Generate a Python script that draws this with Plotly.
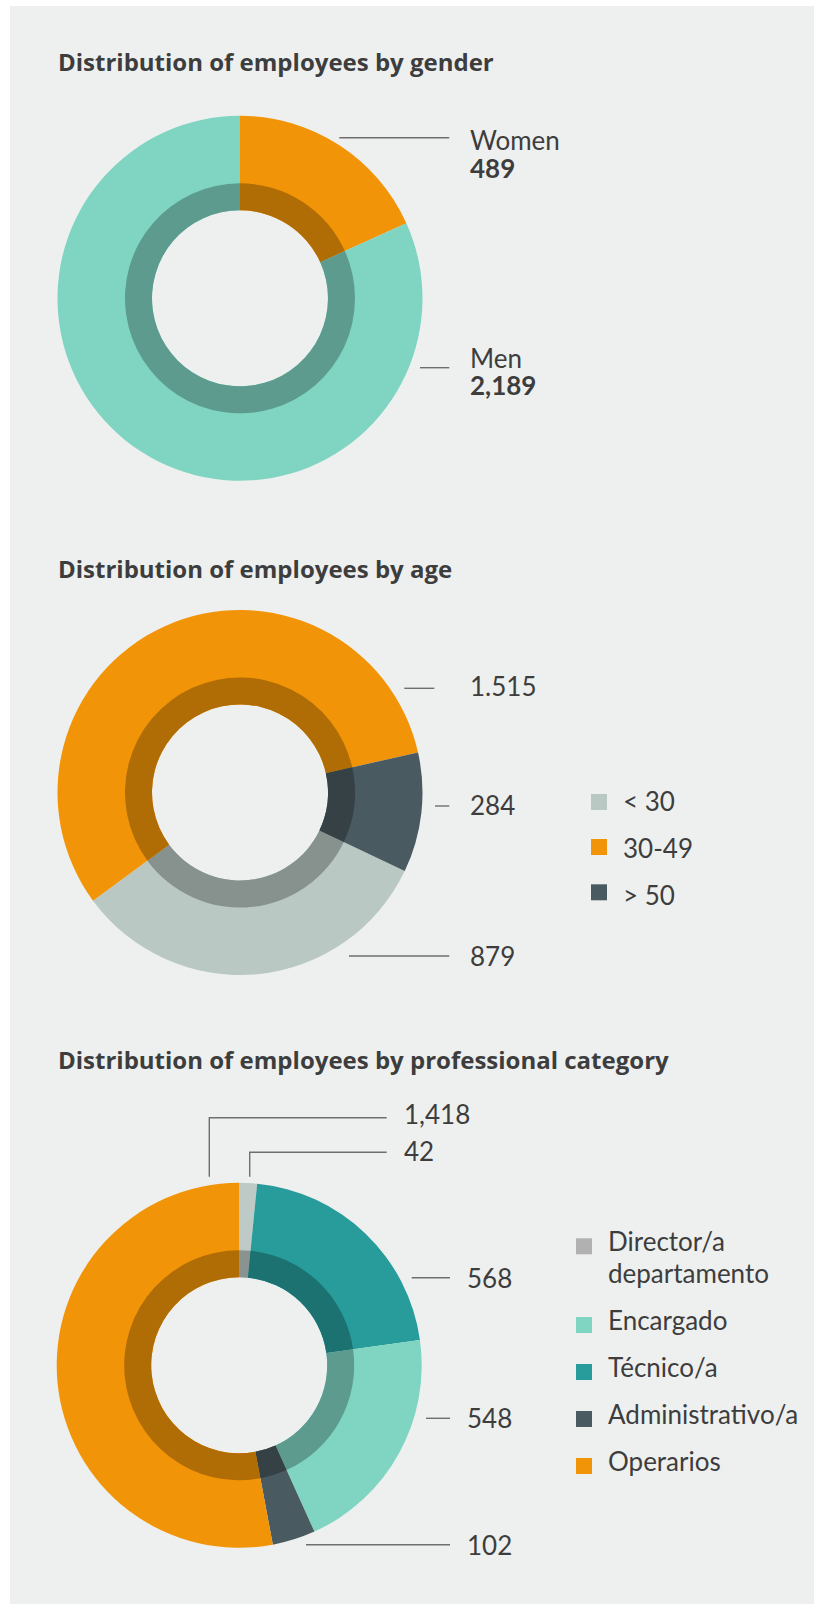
import plotly.graph_objects as go

# ---- data -------------------------------------------------------------
gender_labels = ["Women", "Men"]
gender_values = [489, 2189]

age_labels = ["< 30", "30-49", "> 50"]
age_values = [879, 1515, 284]

cat_labels = ["Director/a departamento", "Técnico/a", "Encargado", "Administrativo/a", "Operarios"]
cat_values = [42, 568, 548, 102, 1418]
cat_legend = ["Director/a<br>departamento", "Encargado", "Técnico/a", "Administrativo/a", "Operarios"]

# ---- style ------------------------------------------------------------
W, H = 814, 1604
ORANGE = "#F29407"
MINT = "#7FD5C2"
SLATE = "#4A5A61"
SAGE = "#B9C8C3"
TEAL = "#279C9B"
PALE = "#BECAC5"
BG = "#EEF0EF"
INK = "#3D3D3D"
LINE = "#6E6E6E"
FONT = "Lato"
TITLE_FONT = "Open Sans"

gender_colors = [ORANGE, MINT]
age_colors = [SAGE, ORANGE, SLATE]
cat_colors = [PALE, TEAL, MINT, SLATE, ORANGE]
age_legend_colors = [SAGE, ORANGE, SLATE]
cat_legend_colors = ["#B1B1B1", MINT, TEAL, SLATE, ORANGE]


def darken(hex_color, f=0.73):
    h = hex_color.lstrip("#")
    r, g, b = (int(h[i:i + 2], 16) for i in (0, 2, 4))
    return "#{:02X}{:02X}{:02X}".format(int(r * f), int(g * f), int(b * f))


def px(x):
    return x / W


def py(y):
    return 1 - y / H


def domain(cx, cy, r):
    return dict(x=[px(cx - r), px(cx + r)], y=[py(cy + r), py(cy - r)])


fig = go.Figure()


def donut(labels, values, colors, cx, cy, rotation, r_out=182.5, r_ring=115, r_hole=88):
    common = dict(labels=labels, values=values, sort=False, direction="clockwise",
                  rotation=rotation, textinfo="none", hoverinfo="label+value",
                  showlegend=False)
    # outer ring in full colour
    fig.add_trace(go.Pie(domain=domain(cx, cy, r_out), hole=r_hole / r_out,
                         marker=dict(colors=colors, line=dict(width=0)), **common))
    # darker inner band
    fig.add_trace(go.Pie(domain=domain(cx, cy, r_ring), hole=r_hole / r_ring,
                         marker=dict(colors=[darken(c) for c in colors], line=dict(width=0)),
                         **common))


donut(gender_labels, gender_values, gender_colors, 240, 298.3, 0)
donut(age_labels, age_values, age_colors, 240, 792.5, 115.5)
donut(cat_labels, cat_values, cat_colors, 239.2, 1365.3, 0)

annotations = []
shapes = [
    dict(type="rect", xref="paper", yref="paper", x0=px(10), x1=1, y0=0, y1=py(6),
         fillcolor=BG, line=dict(width=0), layer="below"),
]

SIZE = 26


def text(x, baseline, s, size=SIZE, bold=False, family=FONT):
    annotations.append(dict(
        x=px(x), y=py(baseline - 0.37 * size), xref="paper", yref="paper",
        xanchor="left", yanchor="middle", showarrow=False,
        text=f"<b>{s}</b>" if bold else s,
        font=dict(family=family, size=size, color=INK),
    ))


def leader(points):
    path = "M " + " L ".join(f"{px(x)},{py(y)}" for x, y in points)
    shapes.append(dict(type="path", xref="paper", yref="paper", path=path,
                       line=dict(color=LINE, width=1.4)))


def square(x, y, color):
    shapes.append(dict(type="rect", xref="paper", yref="paper",
                       x0=px(x), x1=px(x + 16), y0=py(y + 16), y1=py(y),
                       line=dict(width=0), fillcolor=color))


# titles
text(56, 70, "Distribution of employees by gender", 24, True, TITLE_FONT)
text(56, 577.3, "Distribution of employees by age", 24, True, TITLE_FONT)
text(56, 1068.7, "Distribution of employees by professional category", 24, True, TITLE_FONT)

# gender labels
leader([(339.3, 137.7), (449.3, 137.7)])
text(468.3, 149.3, gender_labels[0])
text(468.3, 177.7, f"{gender_values[0]:,}", bold=True)
leader([(420, 367.7), (449.3, 367.7)])
text(468.3, 367.3, gender_labels[1])
text(468.3, 395, f"{gender_values[1]:,}", bold=True)

# age labels (thousands with a dot)
fmt_dot = lambda v: f"{v:,}".replace(",", ".")
leader([(404.3, 688.3), (434.3, 688.3)])
text(468.3, 696, fmt_dot(age_values[1]))
leader([(435, 806), (449.3, 806)])
text(468.3, 814.3, fmt_dot(age_values[2]))
leader([(349, 956), (449.3, 956)])
text(468.3, 966, fmt_dot(age_values[0]))

# age legend
for lab, col, sq_y, base in zip(age_labels, age_legend_colors, [794, 839, 884.3], [810.5, 858, 905]):
    square(591, sq_y, col)
    text(620.7, base, lab)

# category labels
leader([(209.3, 1176.7), (209.3, 1117.7), (386.7, 1117.7)])
text(401.7, 1123.3, f"{cat_values[4]:,}")
leader([(249.7, 1176.7), (249.7, 1152.3), (386.7, 1152.3)])
text(401.7, 1161, f"{cat_values[0]:,}")
leader([(411.7, 1277.7), (450, 1277.7)])
text(465, 1287.3, f"{cat_values[1]:,}")
leader([(426, 1418.3), (450, 1418.3)])
text(465, 1427.3, f"{cat_values[2]:,}")
leader([(306, 1544.7), (450, 1544.7)])
text(465, 1555, f"{cat_values[3]:,}")

# category legend
for lab, col, sq_y, base in zip(cat_legend, cat_legend_colors,
                                [1238.3, 1317, 1364, 1411, 1458],
                                [1251, 1330, 1376.7, 1423.3, 1470.7]):
    square(576, sq_y, col)
    for k, p in enumerate(lab.split("<br>")):
        text(605.7, base + k * 31.7, p)

fig.update_layout(
    width=W, height=H, margin=dict(l=0, r=0, t=0, b=0),
    paper_bgcolor="white", plot_bgcolor="white",
    shapes=shapes, annotations=annotations,
    font=dict(family=FONT, color=INK),
)

fig.write_html("out.html")
